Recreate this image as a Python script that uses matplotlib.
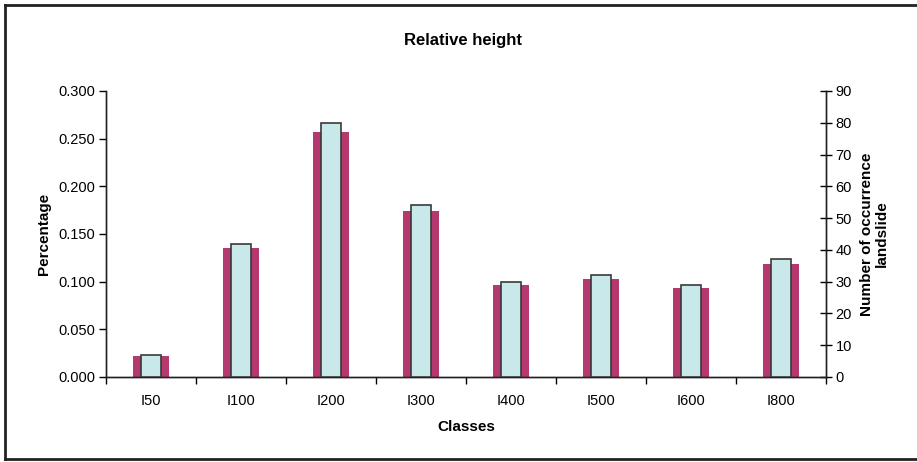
import matplotlib
matplotlib.use('Agg')
import matplotlib.pyplot as plt
import numpy as np
from matplotlib.lines import Line2D

plt.rcParams['font.family'] = ['Liberation Sans', 'DejaVu Sans']

classes = ['I50', 'I100', 'I200', 'I300', 'I400', 'I500', 'I600', 'I800']
percentage = [0.0225, 0.135, 0.257, 0.174, 0.0965, 0.103, 0.093, 0.119]
occurrence = [7, 42, 80, 54, 30, 32, 29, 37]

pink = '#B5396E'
lblue = '#C9E8EA'

fig = plt.figure(figsize=(9.17, 4.62), dpi=100)
ax = fig.add_axes([106/917, 1-377/462, 720/917, 286/462])
ax2 = ax.twinx()

x = np.arange(len(classes))
ax.bar(x, percentage, width=0.41, color=pink, zorder=2)
ax2.bar(x, occurrence, width=0.22, color=lblue, edgecolor='#3a3a3a', linewidth=1.2, zorder=3)

ax.set_xlim(-0.5, len(classes)-0.5)
ax.set_ylim(0, 0.3)
ax2.set_ylim(0, 90)
ax.set_yticks(np.arange(0, 0.301, 0.05))
ax.set_yticklabels(['%.3f' % v for v in np.arange(0, 0.301, 0.05)])
ax2.set_yticks(np.arange(0, 91, 10))

ax.set_xticks(x)
ax.set_xticklabels(classes)
ax.set_xticks(np.arange(-0.5, len(classes)), minor=True)
ax.tick_params(axis='x', which='major', length=0, pad=12, labelsize=10.5)
ax.tick_params(axis='x', which='minor', length=5, width=1, direction='out')
ax.tick_params(axis='y', length=5, width=1, labelsize=10.5, pad=3)
ax2.tick_params(axis='y', length=8, width=1, direction='inout', labelsize=10.5, pad=3)

for a in (ax, ax2):
    a.spines['top'].set_visible(False)
    for s in a.spines.values():
        s.set_linewidth(1)
        s.set_color('#222222')

ax.set_ylabel('Percentage', fontsize=11, fontweight='bold', labelpad=5)
ax.set_xlabel('Classes', fontsize=11, fontweight='bold', labelpad=9)
ax2.set_ylabel('Number of occurrence\nlandslide', fontsize=11, fontweight='bold', labelpad=6, linespacing=1.05)
fig.text(463/917, 1-40/462, 'Relative height', ha='center', va='center', fontsize=12, fontweight='bold')

# outer frame (right edge cut off)
fig.add_artist(Line2D([5/917, 5/917], [1-5/462, 1-459/462], transform=fig.transFigure, color='#222222', lw=2))
fig.add_artist(Line2D([5/917, 1], [1-5/462, 1-5/462], transform=fig.transFigure, color='#222222', lw=2))
fig.add_artist(Line2D([5/917, 1], [1-459/462, 1-459/462], transform=fig.transFigure, color='#222222', lw=2))

fig.savefig('out.png', dpi=100)
